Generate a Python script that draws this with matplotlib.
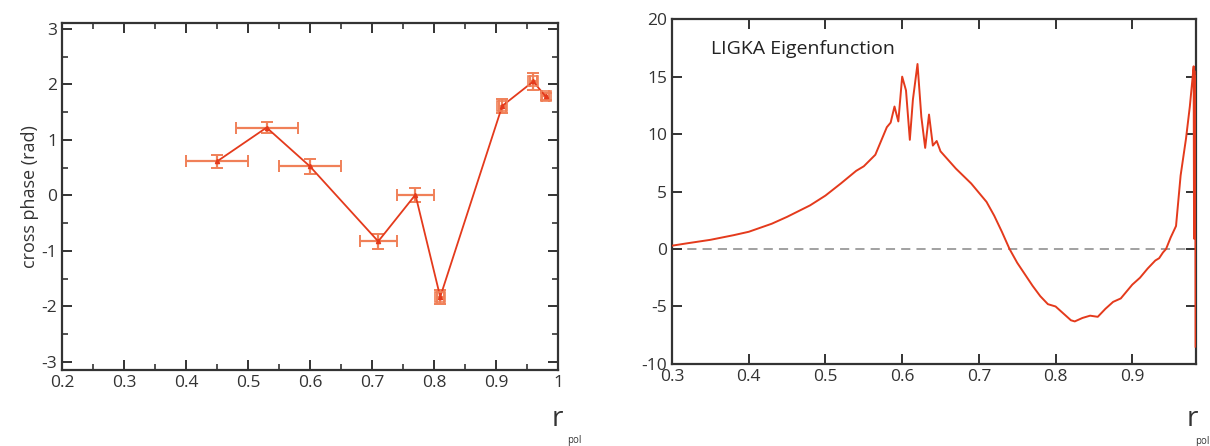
import numpy as np
import matplotlib.pyplot as plt
from matplotlib.ticker import MultipleLocator

plt.rcParams['axes.unicode_minus'] = False
plt.rcParams['font.family'] = ['Open Sans', 'DejaVu Sans']

# left panel: measured cross phase
r_meas = [0.45, 0.53, 0.60, 0.71, 0.77, 0.81, 0.91, 0.96, 0.98]
phase = [0.61, 1.22, 0.52, -0.83, 0.01, -1.83, 1.61, 2.05, 1.78]
r_err = [0.05, 0.05, 0.05, 0.03, 0.03, 0.006, 0.006, 0.006, 0.006]
phase_err = [0.12, 0.10, 0.14, 0.14, 0.13, 0.13, 0.13, 0.16, 0.06]

# right panel: LIGKA eigenfunction
r_eig = [0.300, 0.320, 0.350, 0.380, 0.400, 0.430, 0.450, 0.480, 0.500, 0.520,
         0.540, 0.550, 0.565, 0.575, 0.580, 0.585, 0.590, 0.595, 0.600, 0.605,
         0.610, 0.614, 0.620, 0.625, 0.630, 0.635, 0.640, 0.645, 0.650, 0.670,
         0.690, 0.700, 0.710, 0.720, 0.730, 0.740, 0.750, 0.760, 0.770, 0.780,
         0.790, 0.800, 0.810, 0.820, 0.825, 0.835, 0.845, 0.855, 0.865, 0.875,
         0.885, 0.900, 0.910, 0.920, 0.930, 0.935, 0.940, 0.944, 0.950, 0.957,
         0.963, 0.970, 0.975, 0.978, 0.980, 0.9805, 0.981, 0.9815, 0.982, 0.9825]
eig = [0.29, 0.50, 0.80, 1.20, 1.50, 2.20, 2.80, 3.80, 4.65, 5.70,
       6.80, 7.20, 8.20, 9.80, 10.6, 11.0, 12.4, 11.1, 15.0, 13.8,
       9.5, 13.0, 16.1, 11.5, 8.8, 11.7, 9.0, 9.4, 8.5, 7.0,
       5.7, 4.9, 4.1, 2.9, 1.5, 0.0, -1.2, -2.2, -3.2, -4.1,
       -4.8, -5.0, -5.6, -6.2, -6.3, -6.0, -5.8, -5.9, -5.2, -4.6,
       -4.3, -3.1, -2.5, -1.7, -1.0, -0.8, -0.3, 0.0, 1.0, 2.0,
       6.4, 9.6, 12.4, 14.5, 15.9, 0.9, 15.5, 1.0, 15.0, -8.5]

line_c = '#e43a1c'
err_c = '#f08058'
spine_c = '#333333'

fig = plt.figure(figsize=(12.1, 4.46), dpi=100)
ax1 = fig.add_axes([0.0512, 0.170, 0.410, 0.778])
ax2 = fig.add_axes([0.5554, 0.184, 0.433, 0.773])

ax1.errorbar(r_meas, phase, xerr=r_err, yerr=phase_err, fmt='-', color=line_c,
             ecolor=err_c, elinewidth=1.6, capsize=4, capthick=1.4, lw=1.3,
             marker='^', ms=3, zorder=3)
ax1.plot(r_meas[5:], phase[5:], 's', ms=7, mfc='none', mec=err_c, mew=1.2, zorder=4)
ax1.set_xlim(0.2, 1.0)
ax1.set_ylim(-3.15, 3.1)
ax1.xaxis.set_major_locator(MultipleLocator(0.1))
ax1.xaxis.set_minor_locator(MultipleLocator(0.05))
ax1.yaxis.set_major_locator(MultipleLocator(1))
ax1.yaxis.set_minor_locator(MultipleLocator(0.5))
ax1.set_xticks([0.2, 0.3, 0.4, 0.5, 0.6, 0.7, 0.8, 0.9, 1.0],
               ['0.2', '0.3', '0.4', '0.5', '0.6', '0.7', '0.8', '0.9', '1'])
ax1.set_ylabel('cross phase (rad)', fontsize=13, color='#333333', labelpad=2)

ax2.axhline(0, color='#888888', lw=1.1, ls=(0, (6, 4)), zorder=1)
ax2.plot(r_eig, eig, color=line_c, lw=1.4, zorder=3)
ax2.set_xlim(0.3, 0.983)
ax2.set_ylim(-10, 20)
ax2.xaxis.set_major_locator(MultipleLocator(0.1))
ax2.yaxis.set_major_locator(MultipleLocator(5))
ax2.text(0.075, 0.9, 'LIGKA Eigenfunction', transform=ax2.transAxes,
         fontsize=14, color='#222222')

for ax in (ax1, ax2):
    for s in ax.spines.values():
        s.set_color(spine_c)
        s.set_linewidth(1.6)
    ax.tick_params(which='both', direction='in', top=True, right=True,
                   colors=spine_c, labelcolor='#333333', labelsize=12.5)
    ax.tick_params(which='major', length=7, width=1.4)
    ax.tick_params(which='minor', length=4, width=1.2)

fig.text(0.456, 0.045, 'r', fontsize=20, color='#333333')
fig.text(0.469, 0.006, 'pol', fontsize=7, color='#333333')
fig.text(0.981, 0.045, 'r', fontsize=20, color='#333333')
fig.text(0.988, 0.004, 'pol', fontsize=7, color='#333333')

fig.savefig('out.png', dpi=100, facecolor='white')
